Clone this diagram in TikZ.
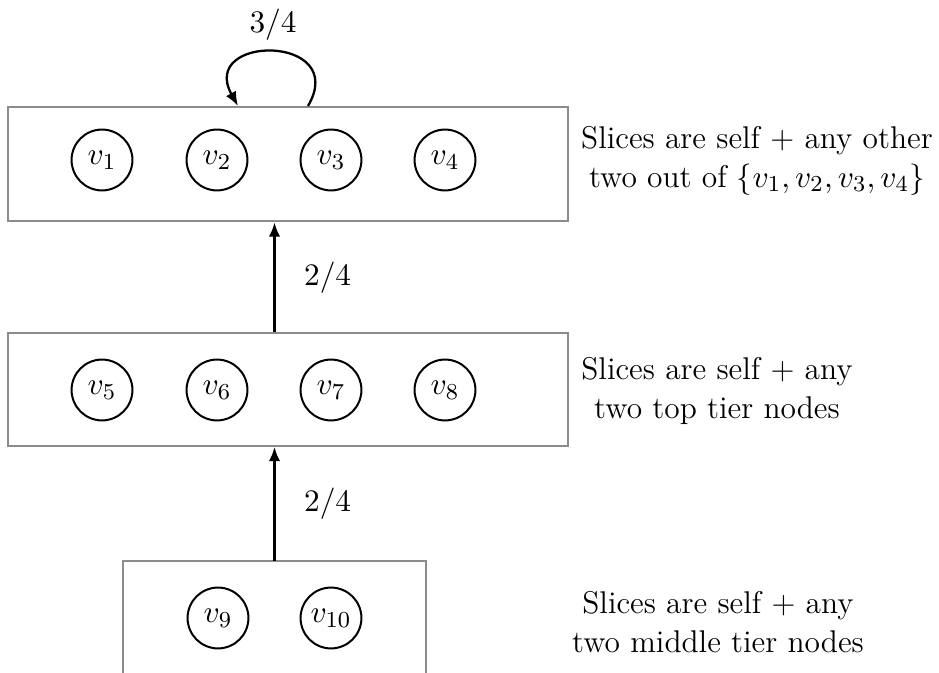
\documentclass[tikz,border=0pt]{standalone}
\usetikzlibrary{arrows.meta}
\begin{document}
\begin{tikzpicture}[x=0.35pt,y=-0.35pt,
  every node/.append style={font=\fontsize{11}{13.4}\selectfont},
  tierbox/.style={draw=gray!90,line width=0.7pt,rectangle,inner sep=0pt},
  vnode/.style={draw,circle,line width=0.7pt,minimum size=21.3pt,inner sep=0pt},
  conn/.style={line width=0.8pt,-{Latex[length=5pt,width=4pt]}},
  lbl/.style={inner sep=0pt},
  note/.style={align=center,inner sep=0pt}]
\useasboundingbox (0,0) rectangle (939,673);
% boxes
\node[tierbox,minimum width=196pt,minimum height=40.2pt] (top) at (288,164) {};
\node[tierbox,minimum width=196pt,minimum height=39.5pt] (mid) at (288,389.5) {};
\coordinate (botnw) at (123,561);
\coordinate (botne) at (426,561);
\coordinate (botsw) at (123,673);
\coordinate (botse) at (426,673);
\coordinate (bot) at (274.5,561);
\draw[draw=gray!90,line width=0.7pt] (botsw) -- (botnw) -- (botne) -- (botse);
% vertices
\node[vnode] (v1) at (102,160) {$v_1$};
\node[vnode] (v2) at (217,160) {$v_2$};
\node[vnode] (v3) at (331,160) {$v_3$};
\node[vnode] (v4) at (445,160) {$v_4$};
\node[vnode] (v5) at (102,390) {$v_5$};
\node[vnode] (v6) at (217,390) {$v_6$};
\node[vnode] (v7) at (331,390) {$v_7$};
\node[vnode] (v8) at (445,390) {$v_8$};
\node[vnode] (v9) at (218,618) {$v_9$};
\node[vnode] (v10) at (331,618) {$v_{10}$};
% connectors
\draw[conn] (bot) -- (bot |- mid.south) node[lbl,midway,right=10pt] {$2/4$};
\draw[conn] (bot |- mid.north) -- (bot |- top.south) node[lbl,midway,right=10pt] {$2/4$};
\coordinate (ls) at (308,106);
\coordinate (le) at (238,106);
\draw[conn] (ls) .. controls (350,34) and (198,34) .. (le);
\node[lbl] (l34) at (273,25) {$3/4$};
% notes
\node[note] (n1) at (757,161) {Slices are self + any other\\two out of $\{v_1,v_2,v_3,v_4\}$};
\node[note] (n2) at (717,391) {Slices are self + any\\two top tier nodes};
\node[note] (n3) at (718,622) {Slices are self + any\\two middle tier nodes};
\end{tikzpicture}
\end{document}
